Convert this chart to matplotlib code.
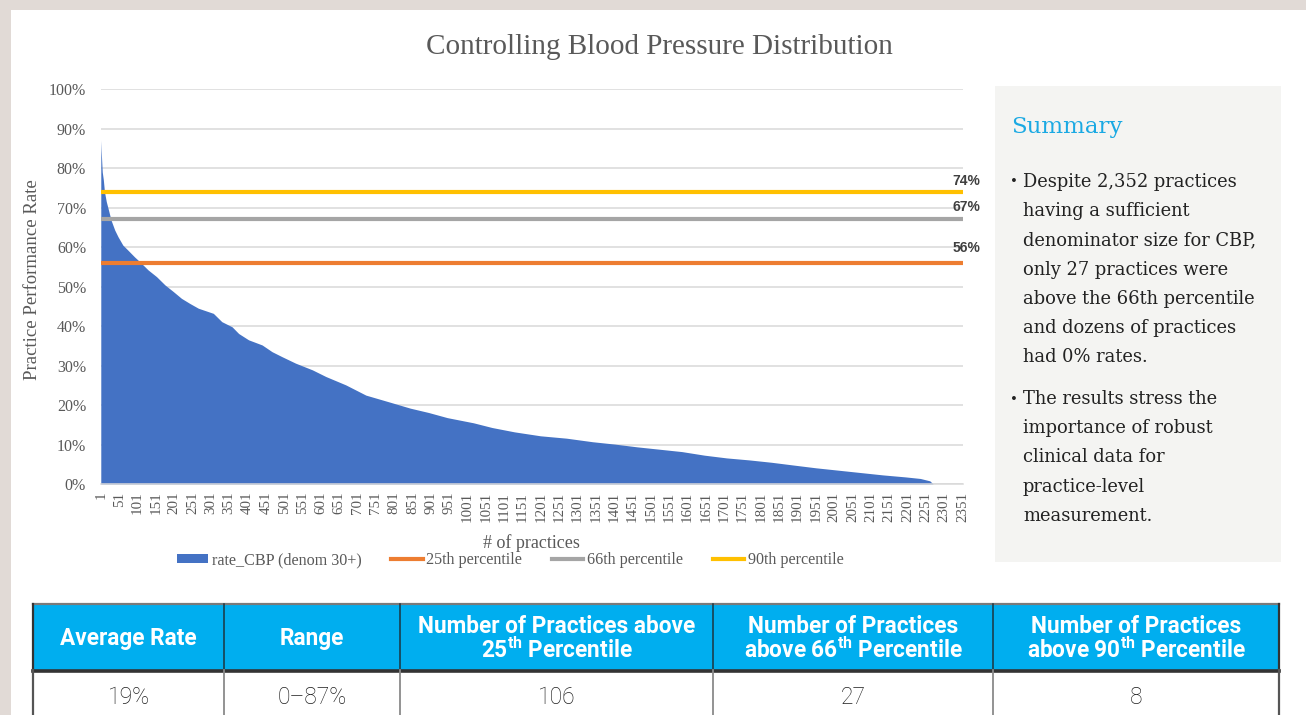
import matplotlib
matplotlib.use('Agg')
import matplotlib.pyplot as plt
from matplotlib.patches import Rectangle
import matplotlib.ticker as mticker

plt.rcParams['mathtext.fontset'] = 'custom'
plt.rcParams['mathtext.rm'] = 'Roboto'
plt.rcParams['mathtext.bf'] = 'Roboto:bold'
plt.rcParams['mathtext.it'] = 'Roboto:italic'

# ---------------- data ----------------
practice_rank = [1, 2, 5, 8, 11, 16, 23, 29, 39, 48, 61, 75, 93, 107, 130,
                 153, 176, 199, 221, 244, 267, 308, 331, 359, 377, 404, 441,
                 468, 496, 532, 578, 615, 669, 724, 794, 845, 895, 946, 1017,
                 1068, 1129, 1200, 1271, 1342, 1403, 1464, 1525, 1586, 1647,
                 1708, 1769, 1830, 1890, 1951, 2012, 2073, 2134, 2195, 2236,
                 2262, 2271, 2352]
rate_pct = [87, 84.5, 79, 77, 74, 71.5, 69, 66.8, 64.3, 62.6, 60.5, 59.2,
            57.5, 56.3, 54.2, 52.5, 50.4, 48.7, 47, 45.7, 44.5, 43.2, 41.1,
            39.8, 38.1, 36.5, 35.2, 33.5, 32.2, 30.6, 28.9, 27.2, 25.1, 22.5,
            20.6, 19.2, 18.1, 16.8, 15.5, 14.3, 13.2, 12.2, 11.6, 10.7, 10.1,
            9.4, 8.8, 8.2, 7.3, 6.6, 6.1, 5.5, 4.8, 4.1, 3.5, 2.9, 2.3, 1.8,
            1.4, 0.8, 0, 0]
n_practices = 2352
series_name = 'rate_CBP (denom 30+)'
percentile_names = ['25th percentile', '66th percentile', '90th percentile']
percentile_values = [56, 67, 74]
percentile_colors = ['#ED7D31', '#A5A5A5', '#FFC000']

title = 'Controlling Blood Pressure Distribution'
summary_title = 'Summary'
summary_bullets = [
    ['Despite 2,352 practices', 'having a sufficient',
     'denominator size for CBP,', 'only 27 practices were',
     'above the 66th percentile', 'and dozens of practices',
     'had 0% rates.'],
    ['The results stress the', 'importance of robust',
     'clinical data for', 'practice-level', 'measurement.'],
]
table_headers = ['Average Rate', 'Range',
                 'Number of Practices above\n25$^{\\mathbf{th}}$ Percentile',
                 'Number of Practices\nabove 66$^{\\mathbf{th}}$ Percentile',
                 'Number of Practices\nabove 90$^{\\mathbf{th}}$ Percentile']
table_values = ['19%', '0\u201387%', '106', '27', '8']

# ---------------- layout ----------------
W, H = 1306, 715
SERIF = 'Liberation Serif'
GREY_TXT = '#595959'

fig = plt.figure(figsize=(W / 100, H / 100), dpi=100)
fig.patch.set_facecolor('white')

bg = fig.add_axes([0, 0, 1, 1], zorder=0)
bg.set_xlim(0, W)
bg.set_ylim(H, 0)
bg.axis('off')
beige = '#e1dad6'
bg.add_patch(Rectangle((0, 0), W, 10, color=beige, lw=0))
bg.add_patch(Rectangle((0, 0), 11, H, color=beige, lw=0))

bg.text(659, 47, title, ha='center', va='center', family=SERIF,
        fontsize=21, color=GREY_TXT)

# main chart axes
x0, x1, ytop, ybot = 100.6, 963.0, 89.0, 484.0
ax = fig.add_axes([x0 / W, 1 - ybot / H, (x1 - x0) / W, (ybot - ytop) / H],
                  zorder=2)
ax.set_facecolor('none')
ax.set_xlim(0.5, n_practices + 0.5)
ax.set_ylim(0, 100)
ax.fill_between(practice_rank, rate_pct, color='#4472C4', lw=0,
                label=series_name, zorder=2)
label_offsets_px = [15, 12, 11]
for v, c, nm, off in zip(percentile_values, percentile_colors,
                         percentile_names, label_offsets_px):
    ax.axhline(v, color=c, lw=3, label=nm, zorder=3)
    ax.annotate(f'{v}%', xy=(1, v), xycoords=('axes fraction', 'data'),
                xytext=(17, off), textcoords='offset pixels', ha='right',
                va='center', fontsize=10, fontweight='bold',
                family='Liberation Sans', color='#404040',
                annotation_clip=False)

ax.set_yticks(range(0, 101, 10))
ax.yaxis.set_major_formatter(mticker.FuncFormatter(lambda v, _: f'{v:.0f}%'))
ax.set_xticks(range(1, n_practices + 1, 50))
ax.tick_params(axis='y', length=0, pad=10.5, labelsize=11.5, labelcolor=GREY_TXT)
ax.tick_params(axis='x', length=0, pad=5.5, labelsize=10.8,
               labelcolor=GREY_TXT, labelrotation=90)
for lab in ax.get_xticklabels() + ax.get_yticklabels():
    lab.set_family(SERIF)
ax.yaxis.grid(True, color='#d9d9d9', lw=1.1)
ax.set_axisbelow(True)
for s in ['top', 'left', 'right']:
    ax.spines[s].set_visible(False)
ax.spines['bottom'].set_color('#d9d9d9')
ax.spines['bottom'].set_linewidth(1.1)

ax.set_ylabel('Practice Performance Rate', family=SERIF, fontsize=13.5,
              color=GREY_TXT)
ax.yaxis.set_label_coords((41 - x0) / (x1 - x0), (ybot - 280) / (ybot - ytop))
ax.set_xlabel('# of practices', family=SERIF, fontsize=13, color=GREY_TXT)
ax.xaxis.set_label_coords(0.5, (ybot - 543) / (ybot - ytop))
ax.xaxis.label.set_va('center')

handles, labels = ax.get_legend_handles_labels()
order = [labels.index(series_name)] + [labels.index(n) for n in percentile_names]
fig.legend([handles[i] for i in order], [labels[i] for i in order],
           loc='center', bbox_to_anchor=(510 / W, 1 - 560 / H), ncol=4,
           frameon=False, prop={'family': SERIF, 'size': 11.6},
           labelcolor=GREY_TXT, handlelength=1.95, handleheight=0.5,
           handletextpad=0.22, columnspacing=1.85, borderaxespad=0,
           borderpad=0)

# summary panel
bg.add_patch(Rectangle((995, 86), 286, 476, color='#f4f4f2', lw=0))
bg.text(1011, 127, summary_title, ha='left', va='center', family='DejaVu Serif',
        fontsize=16.5, color='#1aa9e3')
line_h = 29.2
starts = [182, 399]
for start, lines in zip(starts, summary_bullets):
    bg.text(1010, start, '\u2022', ha='left', va='center',
            family='DejaVu Serif', fontsize=9.5, color='#222222')
    for i, ln in enumerate(lines):
        bg.text(1023, start + i * line_h, ln, ha='left', va='center',
                family='DejaVu Serif', fontsize=12.9, color='#222222')

# table
col_edges = [33, 224, 400, 713, 993, 1279]
t_top, t_hdr, t_bot = 604, 670, 715
bg.add_patch(Rectangle((col_edges[0], t_top), col_edges[-1] - col_edges[0],
                       t_hdr - t_top, color='#00AEEF', lw=0))
bg.plot([col_edges[0], col_edges[-1]], [t_top, t_top], color='#7a7a7a', lw=1.6)
bg.plot([col_edges[0], col_edges[-1]], [t_hdr + 1, t_hdr + 1], color='#333333',
        lw=2.6)
for i, xe in enumerate(col_edges):
    outer = i in (0, len(col_edges) - 1)
    bg.plot([xe, xe], [t_top, t_hdr], color='#333333' if outer else '#1c3540',
            lw=1.6 if outer else 1.1)
    bg.plot([xe, xe], [t_hdr, t_bot], color='#555555' if outer else '#8a8a8a',
            lw=1.6 if outer else 1.3)
for i in range(len(table_headers)):
    cx = (col_edges[i] + col_edges[i + 1]) / 2
    bg.text(cx, (t_top + t_hdr) / 2 + 2, table_headers[i], ha='center',
            va='center', family='Roboto', fontweight='bold', fontsize=16.3,
            color='white', linespacing=1.0)
    bg.text(cx, 697, table_values[i], ha='center', va='center',
            family='Roboto', fontweight='light', fontsize=16.5,
            color='#1e1e1e')

fig.savefig('out.png', dpi=100)
